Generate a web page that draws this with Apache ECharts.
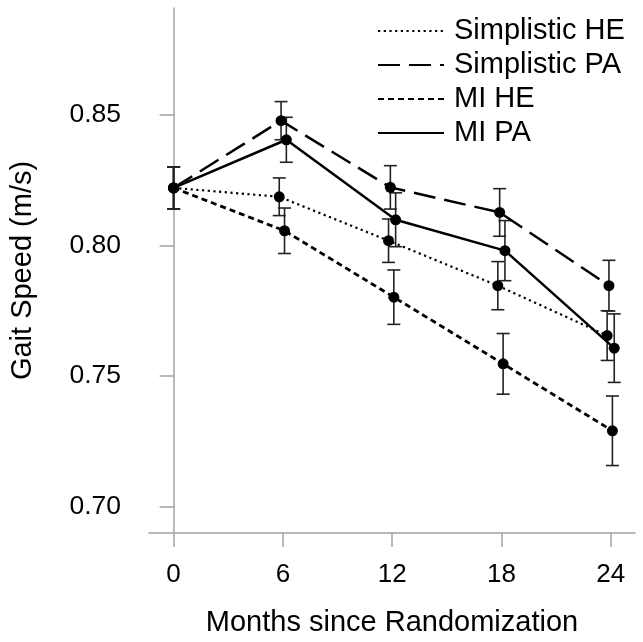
<!DOCTYPE html>
<html>
<head>
<meta charset="utf-8">
<script src="https://cdn.jsdelivr.net/npm/echarts@6/dist/echarts.min.js"></script>
<style>
  html, body { margin: 0; padding: 0; background: #fff; }
  #main { width: 643px; height: 642px; }
</style>
</head>
<body>
<div id="main"></div>
<script>
const months = [0, 6, 12, 18, 24];
const seriesNames = ["Simplistic HE", "Simplistic PA", "MI HE", "MI PA"];
// horizontal dodge per series (not applied at month 0)
const dodge = [-0.2, -0.1, 0.09, 0.19];

const simpHE = [0.822, 0.8186, 0.8018, 0.7846, 0.7655];
const simpHEErr = [0.008, 0.0072, 0.0083, 0.0092, 0.0095];
const simpPA = [0.822, 0.8477, 0.8222, 0.8126, 0.7846];
const simpPAErr = [0.008, 0.0073, 0.0083, 0.0091, 0.0097];
const miHE = [0.822, 0.8056, 0.7802, 0.7547, 0.7291];
const miHEErr = [0.008, 0.0087, 0.0104, 0.0116, 0.0133];
const miPA = [0.822, 0.8404, 0.8098, 0.798, 0.7607];
const miPAErr = [0.008, 0.0086, 0.0103, 0.0115, 0.0131];

const xTicks = [0, 6, 12, 18, 24];
const yTicks = [0.7, 0.75, 0.8, 0.85];

const values = [simpHE, simpPA, miHE, miPA];
const errors = [simpHEErr, simpPAErr, miHEErr, miPAErr];
const lineStyles = [
  { type: [2.2, 3.5], width: 2.2 },
  { type: [22, 9], width: 2.5 },
  { type: [6, 4], width: 2.8 },
  { type: "solid", width: 2.5 },
];

const font = "'Liberation Sans', Arial, sans-serif";
const axisGrey = "#a3a3a3";

const chart = echarts.init(document.getElementById("main"));

const xPos = (si, i) => months[i] + (months[i] === 0 ? 0 : dodge[si]);

const series = [];
values.forEach((vals, si) => {
  series.push({
    name: seriesNames[si] + " err",
    type: "custom",
    z: 1,
    silent: true,
    data: vals.map((v, i) => [xPos(si, i), v - errors[si][i], v + errors[si][i]]),
    renderItem: (params, api) => {
      const lo = api.coord([api.value(0), api.value(1)]);
      const hi = api.coord([api.value(0), api.value(2)]);
      const hw = 6.5;
      const st = { stroke: "#222", lineWidth: 1.6 };
      return {
        type: "group",
        children: [
          { type: "line", shape: { x1: lo[0], y1: lo[1], x2: hi[0], y2: hi[1] }, style: st },
          { type: "line", shape: { x1: lo[0] - hw, y1: lo[1], x2: lo[0] + hw, y2: lo[1] }, style: st },
          { type: "line", shape: { x1: hi[0] - hw, y1: hi[1], x2: hi[0] + hw, y2: hi[1] }, style: st },
        ],
      };
    },
  });
  series.push({
    name: seriesNames[si],
    type: "line",
    z: 3,
    data: vals.map((v, i) => [xPos(si, i), v]),
    symbol: "circle",
    symbolSize: 11,
    itemStyle: { color: "#000" },
    lineStyle: Object.assign({ color: "#000" }, lineStyles[si]),
    animation: false,
  });
});

const option = {
  animation: false,
  backgroundColor: "#fff",
  grid: { left: 148, right: 8, top: 8, bottom: 109 },
  legend: {
    orient: "vertical",
    left: 372,
    top: 9,
    itemWidth: 66,
    itemHeight: 14,
    itemGap: 0,
    data: seriesNames,
    itemStyle: { opacity: 0 },
    textStyle: { fontFamily: font, fontSize: 29, color: "#000", lineHeight: 34, padding: [0, 0, 0, 5] },
  },
  xAxis: {
    type: "value",
    min: -1.35,
    max: 25.33,
    name: "Months since Randomization",
    nameLocation: "middle",
    nameGap: 75,
    nameTextStyle: { fontFamily: font, fontSize: 29, color: "#000" },
    splitLine: { show: false },
    axisLine: { lineStyle: { color: axisGrey, width: 1.5 } },
    axisTick: { customValues: xTicks, length: 14, lineStyle: { color: axisGrey, width: 1.5 } },
    axisLabel: { customValues: xTicks, margin: 29, fontFamily: font, fontSize: 26, color: "#000" },
  },
  yAxis: {
    type: "value",
    min: 0.69,
    max: 0.8908,
    name: "Gait Speed (m/s)",
    nameLocation: "middle",
    nameGap: 112,
    nameTextStyle: { fontFamily: font, fontSize: 29, color: "#000" },
    splitLine: { show: false },
    axisLine: { show: true, lineStyle: { color: axisGrey, width: 1.5 } },
    axisTick: { show: true, customValues: yTicks, length: 14, lineStyle: { color: axisGrey, width: 1.5 } },
    axisLabel: {
      customValues: yTicks,
      margin: 28,
      fontFamily: font,
      fontSize: 26.5,
      color: "#000",
      formatter: (v) => v.toFixed(2),
    },
  },
  series: series,
};

chart.setOption(option);
</script>
</body>
</html>
